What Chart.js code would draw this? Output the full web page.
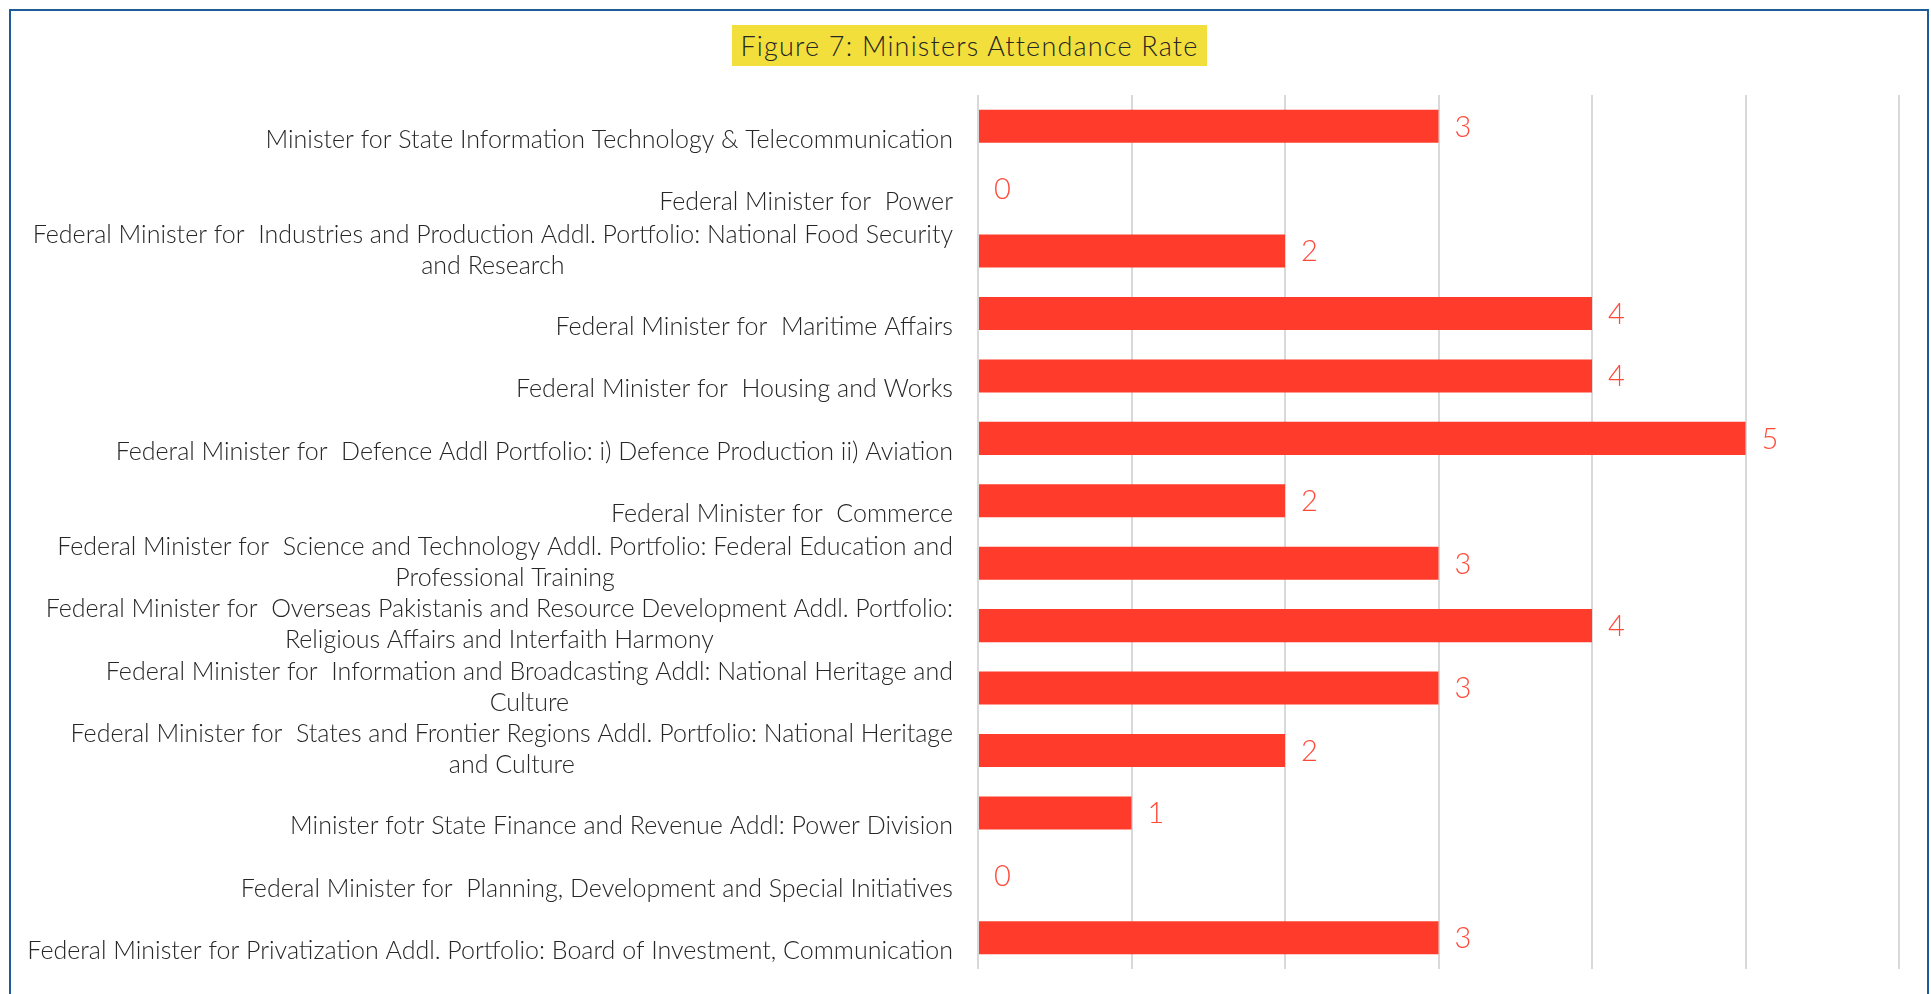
<!DOCTYPE html>
<html>
<head>
<meta charset="utf-8">
<script src="https://cdn.jsdelivr.net/npm/chart.js@4.4.1/dist/chart.umd.min.js"></script>
<style>
  html, body { margin: 0; padding: 0; background: #fff; overflow: hidden; }
  #frame {
    position: absolute; left: 9px; top: 9px; width: 1920px; height: 1010px;
    box-sizing: border-box; border: 2px solid #1d5c98; border-bottom: none;
  }
  #title {
    position: absolute; left: 732px; top: 25px; width: 475px; height: 41px;
    background: #f2df3c; color: #262626;
    font: 300 27px 'Lato', sans-serif; letter-spacing: 1.2px;
    line-height: 41px; text-align: center; white-space: nowrap;
  }
  #chart { position: absolute; left: 0; top: 0; }
</style>
</head>
<body>
<div id="frame"></div>
<canvas id="chart" width="1931" height="994"></canvas>
<div id="title">Figure 7: Ministers Attendance Rate</div>
<script>
// ── Data ───────────────────────────────────────────────────────────────────
const ministers = [
  ['Minister for State Information Technology & Telecommunication'],
  ['Federal Minister for  Power'],
  ['Federal Minister for  Industries and Production Addl. Portfolio: National Food Security', 'and Research'],
  ['Federal Minister for  Maritime Affairs'],
  ['Federal Minister for  Housing and Works'],
  ['Federal Minister for  Defence Addl Portfolio: i) Defence Production ii) Aviation'],
  ['Federal Minister for  Commerce'],
  ['Federal Minister for  Science and Technology Addl. Portfolio: Federal Education and', 'Professional Training'],
  ['Federal Minister for  Overseas Pakistanis and Resource Development Addl. Portfolio:', 'Religious Affairs and Interfaith Harmony'],
  ['Federal Minister for  Information and Broadcasting Addl: National Heritage and', 'Culture'],
  ['Federal Minister for  States and Frontier Regions Addl. Portfolio: National Heritage', 'and Culture'],
  ['Minister fotr State Finance and Revenue Addl: Power Division'],
  ['Federal Minister for  Planning, Development and Special Initiatives'],
  ['Federal Minister for Privatization Addl. Portfolio: Board of Investment, Communication']
];
const attendance = [3, 0, 2, 4, 4, 5, 2, 3, 4, 3, 2, 1, 0, 3];
const axisMin = 0;
const axisMax = 6;

const BAR = '#ff3b2b';
const LABEL_FONT = "300 25px 'Lato', sans-serif";
const LINE_H = 31;

// category labels: block right-aligned, lines centred inside the block,
// single lines sit half a line low like the original
const categoryLabels = {
  id: 'categoryLabels',
  afterDraw(chart) {
    const ctx = chart.ctx;
    const y = chart.scales.y;
    const right = chart.chartArea.left - 25;
    ctx.save();
    ctx.font = LABEL_FONT;
    ctx.fillStyle = '#262626';
    ctx.textAlign = 'center';
    ctx.textBaseline = 'middle';
    ministers.forEach((lines, i) => {
      const cy = y.getPixelForTick(i);
      const w = Math.max(...lines.map(l => ctx.measureText(l).width));
      const cx = right - w / 2;
      const start = lines.length === 1 ? cy + LINE_H / 2 - 2 : cy - LINE_H / 2 - 1;
      lines.forEach((l, k) => ctx.fillText(l, cx, start + k * LINE_H));
    });
    ctx.restore();
  }
};

// value labels at the bar ends
const valueLabels = {
  id: 'valueLabels',
  afterDatasetsDraw(chart) {
    const ctx = chart.ctx;
    const meta = chart.getDatasetMeta(0);
    ctx.save();
    ctx.font = "300 29px 'Lato', sans-serif";
    ctx.fillStyle = '#ff4a3a';
    ctx.textAlign = 'left';
    ctx.textBaseline = 'middle';
    meta.data.forEach((bar, i) => {
      ctx.fillText(String(attendance[i]), bar.x + 16, bar.y + 1);
    });
    ctx.restore();
  }
};

new Chart(document.getElementById('chart').getContext('2d'), {
  type: 'bar',
  data: {
    labels: ministers.map(l => l.join(' ')),
    datasets: [{
      data: attendance,
      backgroundColor: BAR,
      borderWidth: 0,
      categoryPercentage: 1,
      barPercentage: 0.53
    }]
  },
  options: {
    indexAxis: 'y',
    responsive: false,
    devicePixelRatio: 1,
    animation: false,
    layout: { padding: { top: 95, bottom: 25, right: 32, left: 0 } },
    plugins: {
      legend: { display: false },
      tooltip: { enabled: false }
    },
    scales: {
      x: {
        min: axisMin,
        max: axisMax,
        ticks: { display: false, stepSize: 1 },
        grid: { color: '#d9d9d9', lineWidth: 2, drawTicks: false },
        border: { display: false }
      },
      y: {
        ticks: { display: false },
        grid: { display: false, drawTicks: false },
        border: { display: false },
        afterFit(scale) { scale.width = 978; }
      }
    }
  },
  plugins: [categoryLabels, valueLabels]
});
</script>
</body>
</html>
